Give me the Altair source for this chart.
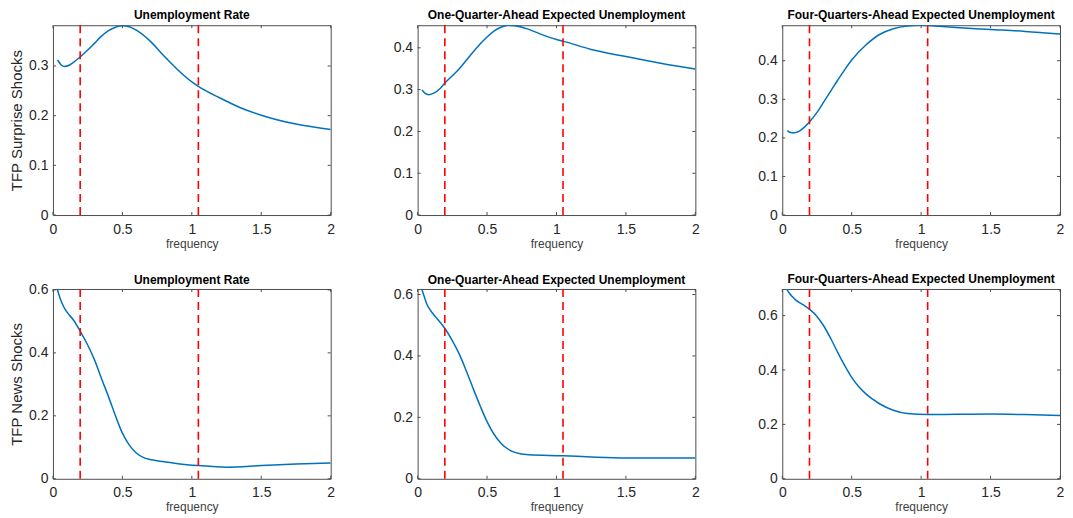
import altair as alt
import pandas as pd

# ---------------- data ----------------
panel_titles = ["Unemployment Rate",
                "One-Quarter-Ahead Expected Unemployment",
                "Four-Quarters-Ahead Expected Unemployment"]
row_titles = ["TFP Surprise Shocks", "TFP News Shocks"]

freq_ticks = [0, 0.5, 1, 1.5, 2]
band_edges = [0.196, 1.047]   # 2*pi/32 and 2*pi/6

# Surprise shocks
sur_ur_x = [0.033, 0.06, 0.08, 0.12, 0.16, 0.2, 0.25, 0.3, 0.35, 0.4, 0.45, 0.5, 0.55, 0.6,
            0.7, 0.8, 0.9, 1.0, 1.047, 1.2, 1.35, 1.5, 1.75, 2.0]
sur_ur_y = [0.312, 0.302, 0.299, 0.302, 0.310, 0.319, 0.332, 0.346, 0.360, 0.371, 0.378, 0.381,
            0.379, 0.372, 0.350, 0.320, 0.292, 0.268, 0.259, 0.236, 0.216, 0.201, 0.183, 0.172]

sur_q1_x = [0.031, 0.055, 0.08, 0.12, 0.16, 0.2, 0.25, 0.3, 0.35, 0.4, 0.45, 0.5, 0.55, 0.6,
            0.65, 0.7, 0.8, 0.9, 1.0, 1.047, 1.25, 1.5, 1.75, 2.0]
sur_q1_y = [0.299, 0.291, 0.288, 0.292, 0.302, 0.317, 0.333, 0.350, 0.370, 0.390, 0.409, 0.426,
            0.440, 0.449, 0.454, 0.453, 0.444, 0.431, 0.420, 0.416, 0.396, 0.379, 0.363, 0.349]

sur_q4_x = [0.036, 0.06, 0.084, 0.12, 0.16, 0.2, 0.25, 0.3, 0.35, 0.4, 0.45, 0.5, 0.6, 0.7,
            0.8, 0.9, 1.0, 1.047, 1.25, 1.5, 1.75, 2.0]
sur_q4_y = [0.219, 0.214, 0.213, 0.217, 0.228, 0.243, 0.266, 0.294, 0.322, 0.350, 0.377, 0.402,
            0.440, 0.468, 0.483, 0.490, 0.492, 0.491, 0.486, 0.481, 0.476, 0.469]

# News shocks
news_ur_x = [0.031, 0.05, 0.079, 0.1, 0.15, 0.2, 0.25, 0.3, 0.35, 0.4, 0.45, 0.5, 0.55, 0.6,
             0.65, 0.7, 0.8, 0.9, 1.047, 1.25, 1.5, 1.75, 2.0]
news_ur_y = [0.603, 0.575, 0.545, 0.530, 0.503, 0.466, 0.425, 0.377, 0.318, 0.261, 0.200, 0.145,
             0.107, 0.082, 0.068, 0.061, 0.054, 0.048, 0.042, 0.037, 0.042, 0.047, 0.050]

news_q1_x = [0.031, 0.05, 0.067, 0.09, 0.115, 0.15, 0.2, 0.25, 0.3, 0.35, 0.4, 0.45, 0.5, 0.55,
             0.6, 0.65, 0.7, 0.8, 1.047, 1.25, 1.5, 1.75, 2.0]
news_q1_y = [0.616, 0.590, 0.568, 0.550, 0.535, 0.516, 0.487, 0.450, 0.406, 0.352, 0.294, 0.238,
             0.186, 0.145, 0.116, 0.097, 0.086, 0.078, 0.075, 0.071, 0.068, 0.068, 0.068]

news_q4_x = [0.031, 0.05, 0.072, 0.1, 0.131, 0.16, 0.2, 0.25, 0.3, 0.35, 0.4, 0.45, 0.5, 0.55,
             0.6, 0.7, 0.8, 0.9, 1.047, 1.25, 1.5, 1.75, 2.0]
news_q4_y = [0.698, 0.683, 0.670, 0.656, 0.646, 0.637, 0.622, 0.597, 0.561, 0.515, 0.464, 0.416,
             0.373, 0.339, 0.313, 0.276, 0.252, 0.240, 0.236, 0.237, 0.238, 0.236, 0.233]

y_max = [[0.382, 0.454, 0.492], [0.603, 0.618, 0.698]]
y_ticks = [[[0, 0.1, 0.2, 0.3], [0, 0.1, 0.2, 0.3, 0.4], [0, 0.1, 0.2, 0.3, 0.4]],
           [[0, 0.2, 0.4, 0.6], [0, 0.2, 0.4, 0.6], [0, 0.2, 0.4, 0.6]]]

series = [[(sur_ur_x, sur_ur_y), (sur_q1_x, sur_q1_y), (sur_q4_x, sur_q4_y)],
          [(news_ur_x, news_ur_y), (news_q1_x, news_q1_y), (news_q4_x, news_q4_y)]]

# ---------------- styling ----------------
W, H = 278, 190
FONT = "Liberation Sans"
FRAME = "#4d4d4d"
TICK_LEN = 3
LABEL_FS = 14
TITLE_OFFSET = 2


def panel(xs, ys, ymax, yvals, title, ytitle):
    df = pd.DataFrame({"frequency": xs, "value": ys})
    xsc = alt.Scale(domain=[0, 2], nice=False, zero=False)
    ysc = alt.Scale(domain=[0, ymax], nice=False, zero=False)

    # a top y-label that pokes above the frame pushes the title up; compensate
    top_gap = H * (1 - max(yvals) / ymax)
    poke = max(0.0, LABEL_FS / 2 - top_gap)
    t_offset = TITLE_OFFSET - poke

    x_axis = alt.Axis(values=freq_ticks, format=".1~f", title="frequency",
                      labelPadding=7, titleFontSize=12, titleColor="#404040",
                      titlePadding=2, labelFlush=False, grid=False, ticks=False,
                      domain=False, labelFontSize=LABEL_FS, labelColor="#262626",
                      labelFont=FONT, titleFont=FONT, titleFontWeight="normal")
    y_axis = alt.Axis(values=yvals, format=".1~f", labelPadding=5, title=ytitle,
                      titleFontSize=15, titleColor="#262626", titlePadding=4,
                      grid=False, ticks=False, domain=False, labelFontSize=LABEL_FS,
                      labelColor="#262626", labelFont=FONT, titleFont=FONT,
                      titleFontWeight="normal")

    line = alt.Chart(df).mark_line(color="#0072BD", strokeWidth=1.5,
                                   interpolate="monotone", clip=True).encode(
        x=alt.X("frequency:Q", scale=xsc, axis=x_axis),
        y=alt.Y("value:Q", scale=ysc, axis=y_axis),
    )

    bands = alt.Chart(pd.DataFrame({"frequency": band_edges})).mark_rule(
        color="#FF0000", strokeWidth=1.6, strokeDash=[8, 5]).encode(
        x=alt.X("frequency:Q", scale=xsc, axis=x_axis))

    xt = alt.Chart(pd.DataFrame({"frequency": freq_ticks}))
    ticks_bottom = xt.mark_rule(color=FRAME, strokeWidth=1).encode(
        x=alt.X("frequency:Q", scale=xsc, axis=x_axis),
        y=alt.value(H), y2=alt.value(H - TICK_LEN))
    ticks_top = xt.mark_rule(color=FRAME, strokeWidth=1).encode(
        x=alt.X("frequency:Q", scale=xsc, axis=x_axis),
        y=alt.value(0), y2=alt.value(TICK_LEN))

    yt = alt.Chart(pd.DataFrame({"value": yvals}))
    ticks_left = yt.mark_rule(color=FRAME, strokeWidth=1).encode(
        y=alt.Y("value:Q", scale=ysc, axis=y_axis),
        x=alt.value(0), x2=alt.value(TICK_LEN))
    ticks_right = yt.mark_rule(color=FRAME, strokeWidth=1).encode(
        y=alt.Y("value:Q", scale=ysc, axis=y_axis),
        x=alt.value(W - TICK_LEN), x2=alt.value(W))

    return alt.layer(line, bands, ticks_bottom, ticks_top, ticks_left, ticks_right).properties(
        width=W, height=H,
        title=alt.TitleParams(text=title, font=FONT, fontSize=12, fontWeight="bold",
                              color="#000000", offset=t_offset, frame="group"))


panels = []
for r in range(2):
    for c in range(3):
        xs, ys = series[r][c]
        panels.append(panel(xs, ys, y_max[r][c], y_ticks[r][c], panel_titles[c],
                            row_titles[r] if c == 0 else ""))

chart = alt.concat(*panels, columns=3, spacing={"row": 74, "column": 87},
                   bounds="flush").properties(
    padding={"left": 1, "top": 0, "right": 0, "bottom": 0},
    background="white"
).configure_view(stroke=FRAME, strokeWidth=1).configure_axis(
    domain=False, ticks=False, grid=False,
    labelFont=FONT, labelFontSize=LABEL_FS, labelColor="#262626",
    titleFont=FONT, titleFontWeight="normal"
)

chart.save("out.html", embed_options={"renderer": "svg", "actions": False})
